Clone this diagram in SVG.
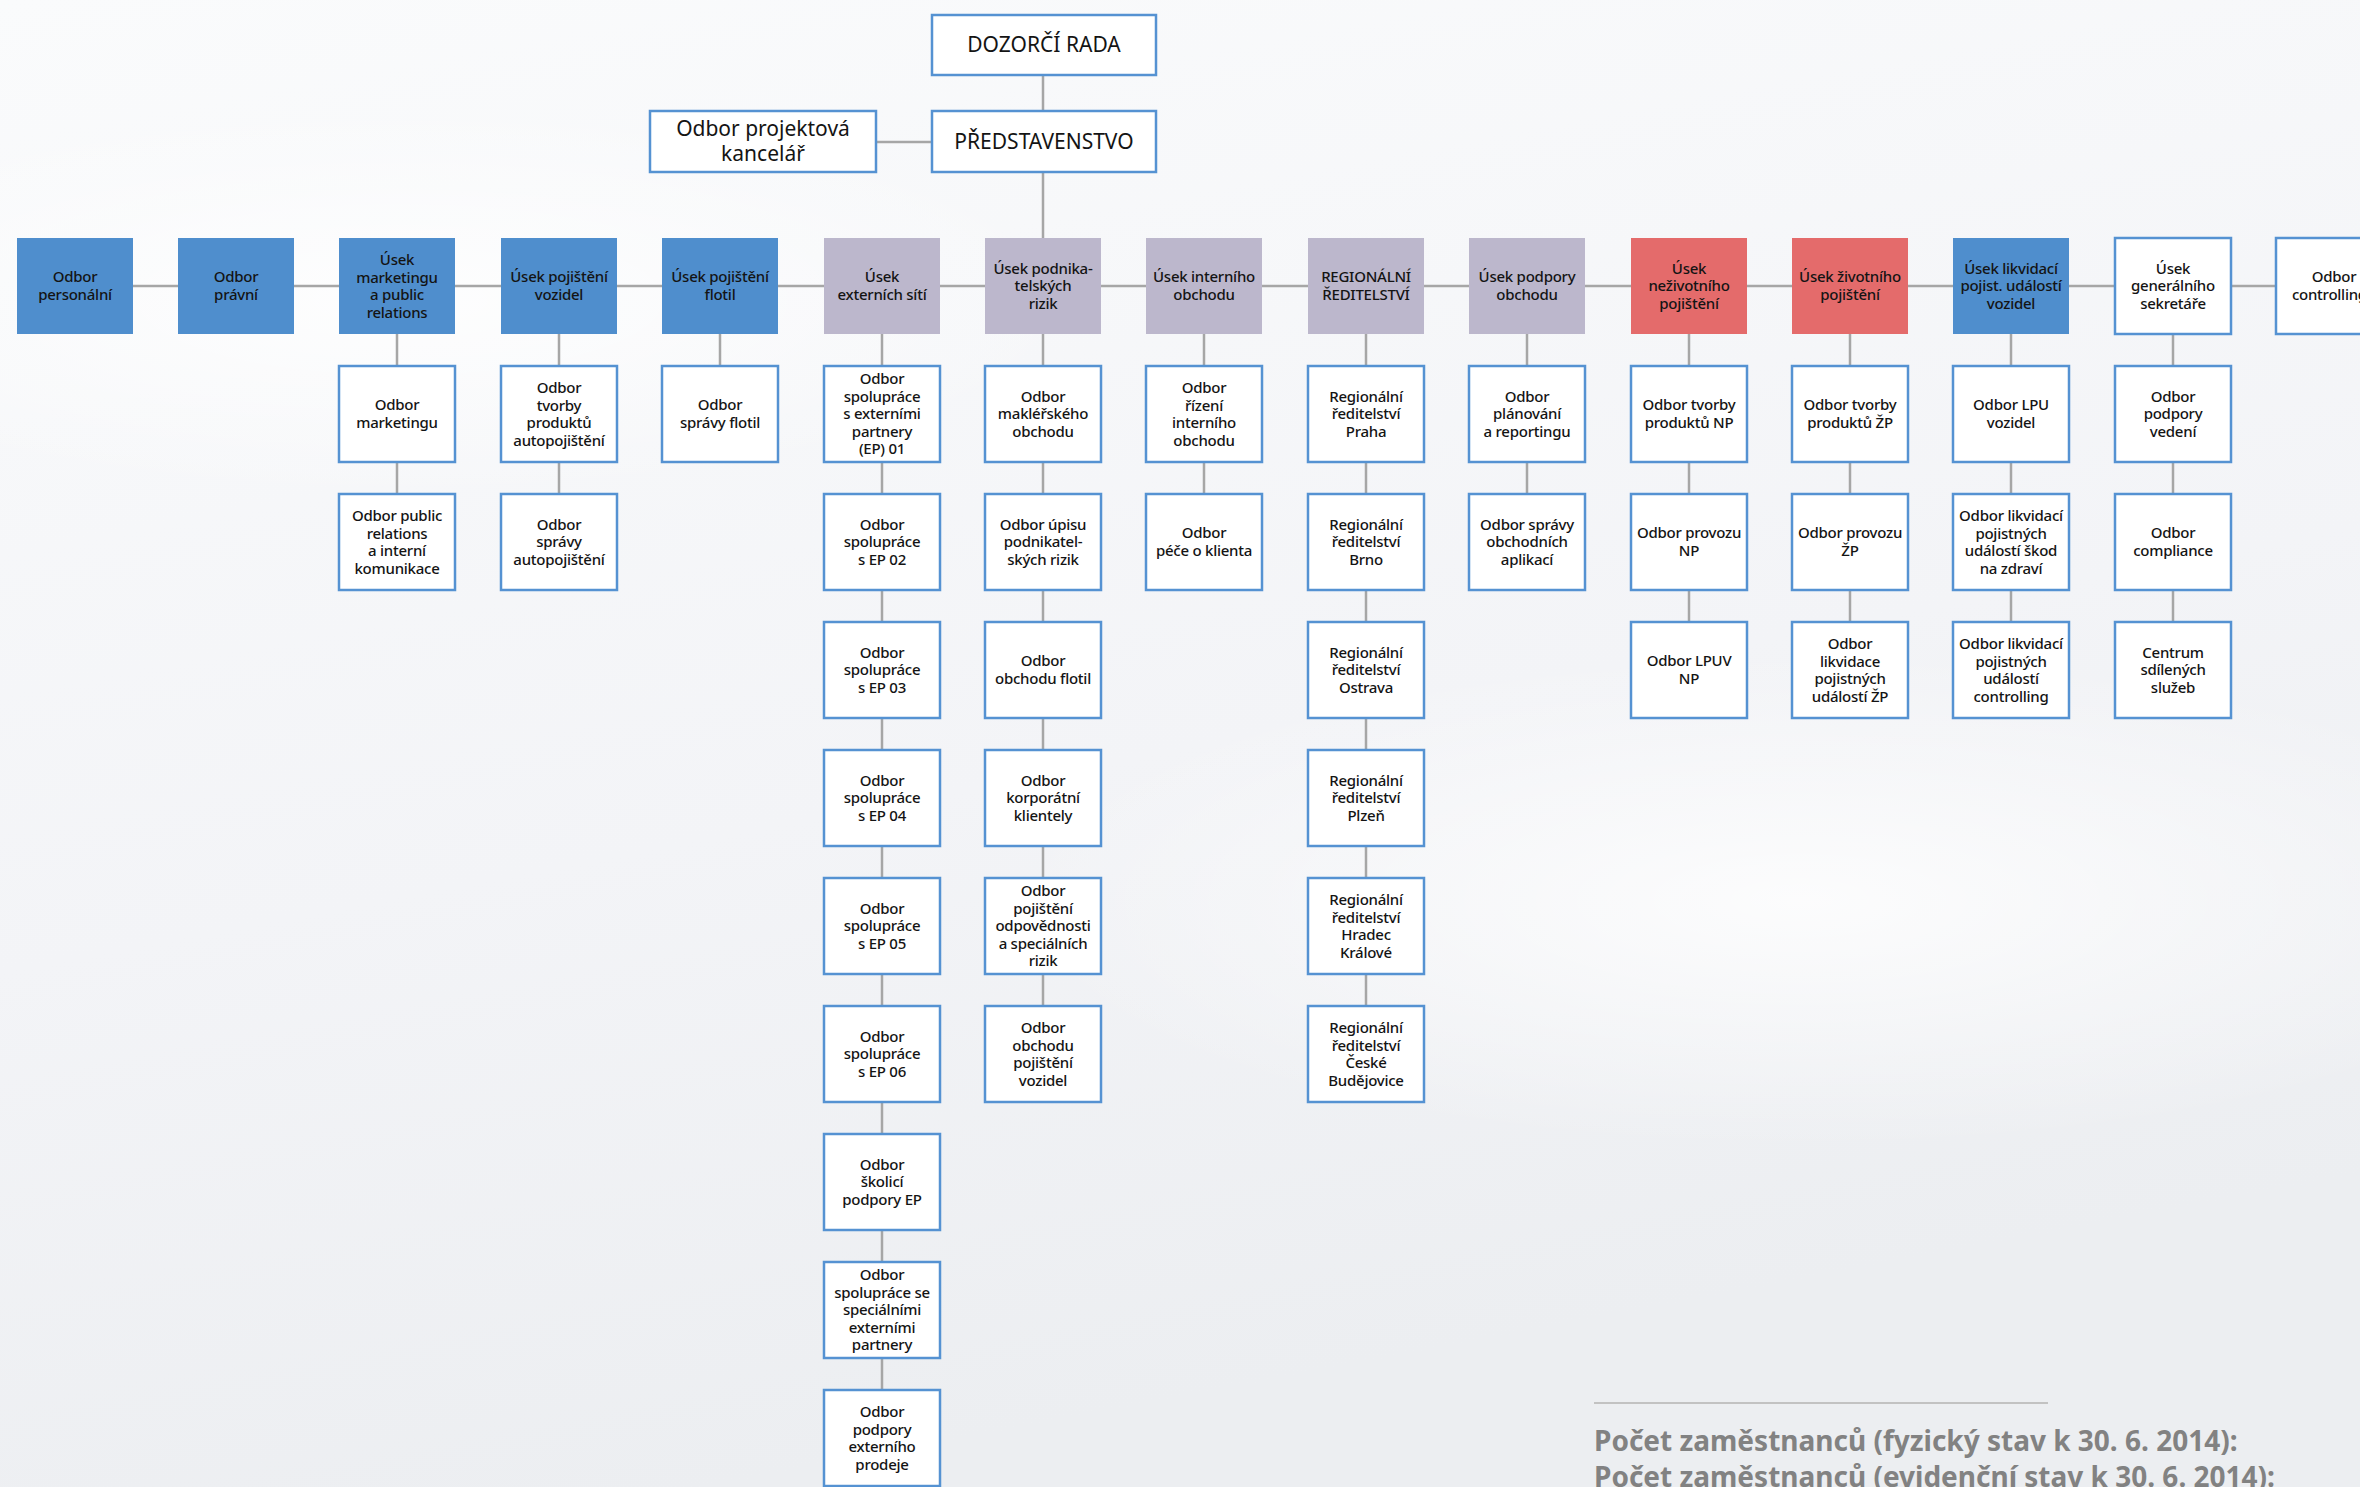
<svg xmlns="http://www.w3.org/2000/svg" width="2360" height="1487" viewBox="0 0 2360 1487">
<defs>
<linearGradient id="bg" x1="0" y1="0" x2="0.3" y2="1">
<stop offset="0" stop-color="#FAFBFC"/>
<stop offset="0.6" stop-color="#F3F4F7"/>
<stop offset="1" stop-color="#ECEEF1"/>
</linearGradient>
<radialGradient id="glow" cx="0.5" cy="0.5" r="0.5">
<stop offset="0" stop-color="#FFFFFF" stop-opacity="0.8"/>
<stop offset="1" stop-color="#FFFFFF" stop-opacity="0"/>
</radialGradient>
</defs>
<style>
.bx{stroke:none}
.blue{fill:#4F8ECD}
.gray{fill:#BCB7CC}
.red{fill:#E46B6B}
.wh{fill:#FFFFFF;stroke:#5592D2;stroke-width:2.5}
.t{font-family:"Noto Sans","Open Sans","DejaVu Sans",sans-serif;font-size:15px;font-weight:500;fill:#141414;text-anchor:middle;letter-spacing:-0.25px}
.tb{font-family:"Noto Sans","Open Sans","DejaVu Sans",sans-serif;font-size:21px;fill:#141414;text-anchor:middle}
.c{stroke:#A6A6A6;stroke-width:2.5;fill:none}
.foot{font-family:"Noto Sans","Open Sans","DejaVu Sans",sans-serif;font-size:28px;font-weight:bold;fill:#828282}
</style>
<rect x="0" y="0" width="2360" height="1487" fill="url(#bg)"/>
<ellipse cx="400" cy="300" rx="700" ry="200" fill="url(#glow)"/>
<ellipse cx="1800" cy="900" rx="800" ry="250" fill="url(#glow)"/>

<g id="connectors">
<line class="c" x1="1043" y1="75" x2="1043" y2="111"/>
<line class="c" x1="876" y1="142" x2="932" y2="142"/>
<line class="c" x1="1043" y1="172" x2="1043" y2="238"/>
<line class="c" x1="75" y1="286" x2="2360" y2="286"/>
<line class="c" x1="397" y1="334" x2="397" y2="494"/>
<line class="c" x1="559" y1="334" x2="559" y2="494"/>
<line class="c" x1="720" y1="334" x2="720" y2="366"/>
<line class="c" x1="882" y1="334" x2="882" y2="1390"/>
<line class="c" x1="1043" y1="334" x2="1043" y2="1006"/>
<line class="c" x1="1204" y1="334" x2="1204" y2="494"/>
<line class="c" x1="1366" y1="334" x2="1366" y2="1006"/>
<line class="c" x1="1527" y1="334" x2="1527" y2="494"/>
<line class="c" x1="1689" y1="334" x2="1689" y2="622"/>
<line class="c" x1="1850" y1="334" x2="1850" y2="622"/>
<line class="c" x1="2011" y1="334" x2="2011" y2="622"/>
<line class="c" x1="2173" y1="334" x2="2173" y2="622"/>
</g>

<g id="dozorci-rada"><rect class="wh" x="932" y="15" width="224" height="60"/><text class="tb" x="1044" y="52">DOZORČÍ RADA</text></g>
<g id="predstavenstvo"><rect class="wh" x="932" y="111" width="224" height="61"/><text class="tb" x="1044" y="149">PŘEDSTAVENSTVO</text></g>
<g id="projektova-kancelar"><rect class="wh" x="650" y="111" width="226" height="61"/><text class="tb" x="763" y="136"><tspan x="763">Odbor projektová</tspan><tspan x="763" dy="25">kancelář</tspan></text></g>

<!-- header row -->
<g id="h0"><rect class="bx blue" x="17" y="238" width="116" height="96"/><text class="t" x="75" y="282"><tspan x="75">Odbor</tspan><tspan x="75" dy="17.5">personální</tspan></text></g>
<g id="h1"><rect class="bx blue" x="178" y="238" width="116" height="96"/><text class="t" x="236" y="282"><tspan x="236">Odbor</tspan><tspan x="236" dy="17.5">právní</tspan></text></g>
<g id="h2"><rect class="bx blue" x="339" y="238" width="116" height="96"/><text class="t" x="397" y="265"><tspan x="397">Úsek</tspan><tspan x="397" dy="17.5">marketingu</tspan><tspan x="397" dy="17.5">a public</tspan><tspan x="397" dy="17.5">relations</tspan></text></g>
<g id="h3"><rect class="bx blue" x="501" y="238" width="116" height="96"/><text class="t" x="559" y="282"><tspan x="559">Úsek pojištění</tspan><tspan x="559" dy="17.5">vozidel</tspan></text></g>
<g id="h4"><rect class="bx blue" x="662" y="238" width="116" height="96"/><text class="t" x="720" y="282"><tspan x="720">Úsek pojištění</tspan><tspan x="720" dy="17.5">flotil</tspan></text></g>
<g id="h5"><rect class="bx gray" x="824" y="238" width="116" height="96"/><text class="t" x="882" y="282"><tspan x="882">Úsek</tspan><tspan x="882" dy="17.5">externích sítí</tspan></text></g>
<g id="h6"><rect class="bx gray" x="985" y="238" width="116" height="96"/><text class="t" x="1043" y="273.5"><tspan x="1043">Úsek podnika-</tspan><tspan x="1043" dy="17.5">telských</tspan><tspan x="1043" dy="17.5">rizik</tspan></text></g>
<g id="h7"><rect class="bx gray" x="1146" y="238" width="116" height="96"/><text class="t" x="1204" y="282"><tspan x="1204">Úsek interního</tspan><tspan x="1204" dy="17.5">obchodu</tspan></text></g>
<g id="h8"><rect class="bx gray" x="1308" y="238" width="116" height="96"/><text class="t" x="1366" y="282"><tspan x="1366">REGIONÁLNÍ</tspan><tspan x="1366" dy="17.5">ŘEDITELSTVÍ</tspan></text></g>
<g id="h9"><rect class="bx gray" x="1469" y="238" width="116" height="96"/><text class="t" x="1527" y="282"><tspan x="1527">Úsek podpory</tspan><tspan x="1527" dy="17.5">obchodu</tspan></text></g>
<g id="h10"><rect class="bx red" x="1631" y="238" width="116" height="96"/><text class="t" x="1689" y="273.5"><tspan x="1689">Úsek</tspan><tspan x="1689" dy="17.5">neživotního</tspan><tspan x="1689" dy="17.5">pojištění</tspan></text></g>
<g id="h11"><rect class="bx red" x="1792" y="238" width="116" height="96"/><text class="t" x="1850" y="282"><tspan x="1850">Úsek životního</tspan><tspan x="1850" dy="17.5">pojištění</tspan></text></g>
<g id="h12"><rect class="bx blue" x="1953" y="238" width="116" height="96"/><text class="t" x="2011" y="273.5"><tspan x="2011">Úsek likvidací</tspan><tspan x="2011" dy="17.5">pojist. událostí</tspan><tspan x="2011" dy="17.5">vozidel</tspan></text></g>
<g id="h13"><rect class="wh" x="2115" y="238" width="116" height="96"/><text class="t" x="2173" y="273.5"><tspan x="2173">Úsek</tspan><tspan x="2173" dy="17.5">generálního</tspan><tspan x="2173" dy="17.5">sekretáře</tspan></text></g>
<g id="h14"><rect class="wh" x="2276" y="238" width="116" height="96"/><text class="t" x="2334" y="282"><tspan x="2334">Odbor</tspan><tspan x="2334" dy="17.5">controllingu</tspan></text></g>

<!-- column 2 -->
<g id="c2-1"><rect class="wh" x="339" y="366" width="116" height="96"/><text class="t" x="397" y="410"><tspan x="397">Odbor</tspan><tspan x="397" dy="17.5">marketingu</tspan></text></g>
<g id="c2-2"><rect class="wh" x="339" y="494" width="116" height="96"/><text class="t" x="397" y="521"><tspan x="397">Odbor public</tspan><tspan x="397" dy="17.5">relations</tspan><tspan x="397" dy="17.5">a interní</tspan><tspan x="397" dy="17.5">komunikace</tspan></text></g>
<!-- column 3 -->
<g id="c3-1"><rect class="wh" x="501" y="366" width="116" height="96"/><text class="t" x="559" y="393"><tspan x="559">Odbor</tspan><tspan x="559" dy="17.5">tvorby</tspan><tspan x="559" dy="17.5">produktů</tspan><tspan x="559" dy="17.5">autopojištění</tspan></text></g>
<g id="c3-2"><rect class="wh" x="501" y="494" width="116" height="96"/><text class="t" x="559" y="529.5"><tspan x="559">Odbor</tspan><tspan x="559" dy="17.5">správy</tspan><tspan x="559" dy="17.5">autopojištění</tspan></text></g>
<!-- column 4 -->
<g id="c4-1"><rect class="wh" x="662" y="366" width="116" height="96"/><text class="t" x="720" y="410"><tspan x="720">Odbor</tspan><tspan x="720" dy="17.5">správy flotil</tspan></text></g>
<!-- column 5 -->
<g id="c5-1"><rect class="wh" x="824" y="366" width="116" height="96"/><text class="t" x="882" y="384"><tspan x="882">Odbor</tspan><tspan x="882" dy="17.5">spolupráce</tspan><tspan x="882" dy="17.5">s externími</tspan><tspan x="882" dy="17.5">partnery</tspan><tspan x="882" dy="17.5">(EP) 01</tspan></text></g>
<g id="c5-2"><rect class="wh" x="824" y="494" width="116" height="96"/><text class="t" x="882" y="529.5"><tspan x="882">Odbor</tspan><tspan x="882" dy="17.5">spolupráce</tspan><tspan x="882" dy="17.5">s EP 02</tspan></text></g>
<g id="c5-3"><rect class="wh" x="824" y="622" width="116" height="96"/><text class="t" x="882" y="657.5"><tspan x="882">Odbor</tspan><tspan x="882" dy="17.5">spolupráce</tspan><tspan x="882" dy="17.5">s EP 03</tspan></text></g>
<g id="c5-4"><rect class="wh" x="824" y="750" width="116" height="96"/><text class="t" x="882" y="785.5"><tspan x="882">Odbor</tspan><tspan x="882" dy="17.5">spolupráce</tspan><tspan x="882" dy="17.5">s EP 04</tspan></text></g>
<g id="c5-5"><rect class="wh" x="824" y="878" width="116" height="96"/><text class="t" x="882" y="913.5"><tspan x="882">Odbor</tspan><tspan x="882" dy="17.5">spolupráce</tspan><tspan x="882" dy="17.5">s EP 05</tspan></text></g>
<g id="c5-6"><rect class="wh" x="824" y="1006" width="116" height="96"/><text class="t" x="882" y="1041.5"><tspan x="882">Odbor</tspan><tspan x="882" dy="17.5">spolupráce</tspan><tspan x="882" dy="17.5">s EP 06</tspan></text></g>
<g id="c5-7"><rect class="wh" x="824" y="1134" width="116" height="96"/><text class="t" x="882" y="1169.5"><tspan x="882">Odbor</tspan><tspan x="882" dy="17.5">školicí</tspan><tspan x="882" dy="17.5">podpory EP</tspan></text></g>
<g id="c5-8"><rect class="wh" x="824" y="1262" width="116" height="96"/><text class="t" x="882" y="1280"><tspan x="882">Odbor</tspan><tspan x="882" dy="17.5">spolupráce se</tspan><tspan x="882" dy="17.5">speciálními</tspan><tspan x="882" dy="17.5">externími</tspan><tspan x="882" dy="17.5">partnery</tspan></text></g>
<g id="c5-9"><rect class="wh" x="824" y="1390" width="116" height="96"/><text class="t" x="882" y="1417"><tspan x="882">Odbor</tspan><tspan x="882" dy="17.5">podpory</tspan><tspan x="882" dy="17.5">externího</tspan><tspan x="882" dy="17.5">prodeje</tspan></text></g>
<!-- column 6 -->
<g id="c6-1"><rect class="wh" x="985" y="366" width="116" height="96"/><text class="t" x="1043" y="401.5"><tspan x="1043">Odbor</tspan><tspan x="1043" dy="17.5">makléřského</tspan><tspan x="1043" dy="17.5">obchodu</tspan></text></g>
<g id="c6-2"><rect class="wh" x="985" y="494" width="116" height="96"/><text class="t" x="1043" y="529.5"><tspan x="1043">Odbor úpisu</tspan><tspan x="1043" dy="17.5">podnikatel-</tspan><tspan x="1043" dy="17.5">ských rizik</tspan></text></g>
<g id="c6-3"><rect class="wh" x="985" y="622" width="116" height="96"/><text class="t" x="1043" y="666"><tspan x="1043">Odbor</tspan><tspan x="1043" dy="17.5">obchodu flotil</tspan></text></g>
<g id="c6-4"><rect class="wh" x="985" y="750" width="116" height="96"/><text class="t" x="1043" y="785.5"><tspan x="1043">Odbor</tspan><tspan x="1043" dy="17.5">korporátní</tspan><tspan x="1043" dy="17.5">klientely</tspan></text></g>
<g id="c6-5"><rect class="wh" x="985" y="878" width="116" height="96"/><text class="t" x="1043" y="896"><tspan x="1043">Odbor</tspan><tspan x="1043" dy="17.5">pojištění</tspan><tspan x="1043" dy="17.5">odpovědnosti</tspan><tspan x="1043" dy="17.5">a speciálních</tspan><tspan x="1043" dy="17.5">rizik</tspan></text></g>
<g id="c6-6"><rect class="wh" x="985" y="1006" width="116" height="96"/><text class="t" x="1043" y="1033"><tspan x="1043">Odbor</tspan><tspan x="1043" dy="17.5">obchodu</tspan><tspan x="1043" dy="17.5">pojištění</tspan><tspan x="1043" dy="17.5">vozidel</tspan></text></g>
<!-- column 7 -->
<g id="c7-1"><rect class="wh" x="1146" y="366" width="116" height="96"/><text class="t" x="1204" y="393"><tspan x="1204">Odbor</tspan><tspan x="1204" dy="17.5">řízení</tspan><tspan x="1204" dy="17.5">interního</tspan><tspan x="1204" dy="17.5">obchodu</tspan></text></g>
<g id="c7-2"><rect class="wh" x="1146" y="494" width="116" height="96"/><text class="t" x="1204" y="538"><tspan x="1204">Odbor</tspan><tspan x="1204" dy="17.5">péče o klienta</tspan></text></g>
<!-- column 8 -->
<g id="c8-1"><rect class="wh" x="1308" y="366" width="116" height="96"/><text class="t" x="1366" y="401.5"><tspan x="1366">Regionální</tspan><tspan x="1366" dy="17.5">ředitelství</tspan><tspan x="1366" dy="17.5">Praha</tspan></text></g>
<g id="c8-2"><rect class="wh" x="1308" y="494" width="116" height="96"/><text class="t" x="1366" y="529.5"><tspan x="1366">Regionální</tspan><tspan x="1366" dy="17.5">ředitelství</tspan><tspan x="1366" dy="17.5">Brno</tspan></text></g>
<g id="c8-3"><rect class="wh" x="1308" y="622" width="116" height="96"/><text class="t" x="1366" y="657.5"><tspan x="1366">Regionální</tspan><tspan x="1366" dy="17.5">ředitelství</tspan><tspan x="1366" dy="17.5">Ostrava</tspan></text></g>
<g id="c8-4"><rect class="wh" x="1308" y="750" width="116" height="96"/><text class="t" x="1366" y="785.5"><tspan x="1366">Regionální</tspan><tspan x="1366" dy="17.5">ředitelství</tspan><tspan x="1366" dy="17.5">Plzeň</tspan></text></g>
<g id="c8-5"><rect class="wh" x="1308" y="878" width="116" height="96"/><text class="t" x="1366" y="905"><tspan x="1366">Regionální</tspan><tspan x="1366" dy="17.5">ředitelství</tspan><tspan x="1366" dy="17.5">Hradec</tspan><tspan x="1366" dy="17.5">Králové</tspan></text></g>
<g id="c8-6"><rect class="wh" x="1308" y="1006" width="116" height="96"/><text class="t" x="1366" y="1033"><tspan x="1366">Regionální</tspan><tspan x="1366" dy="17.5">ředitelství</tspan><tspan x="1366" dy="17.5">České</tspan><tspan x="1366" dy="17.5">Budějovice</tspan></text></g>
<!-- column 9 -->
<g id="c9-1"><rect class="wh" x="1469" y="366" width="116" height="96"/><text class="t" x="1527" y="401.5"><tspan x="1527">Odbor</tspan><tspan x="1527" dy="17.5">plánování</tspan><tspan x="1527" dy="17.5">a reportingu</tspan></text></g>
<g id="c9-2"><rect class="wh" x="1469" y="494" width="116" height="96"/><text class="t" x="1527" y="529.5"><tspan x="1527">Odbor správy</tspan><tspan x="1527" dy="17.5">obchodních</tspan><tspan x="1527" dy="17.5">aplikací</tspan></text></g>
<!-- column 10 -->
<g id="c10-1"><rect class="wh" x="1631" y="366" width="116" height="96"/><text class="t" x="1689" y="410"><tspan x="1689">Odbor tvorby</tspan><tspan x="1689" dy="17.5">produktů NP</tspan></text></g>
<g id="c10-2"><rect class="wh" x="1631" y="494" width="116" height="96"/><text class="t" x="1689" y="538"><tspan x="1689">Odbor provozu</tspan><tspan x="1689" dy="17.5">NP</tspan></text></g>
<g id="c10-3"><rect class="wh" x="1631" y="622" width="116" height="96"/><text class="t" x="1689" y="666"><tspan x="1689">Odbor LPUV</tspan><tspan x="1689" dy="17.5">NP</tspan></text></g>
<!-- column 11 -->
<g id="c11-1"><rect class="wh" x="1792" y="366" width="116" height="96"/><text class="t" x="1850" y="410"><tspan x="1850">Odbor tvorby</tspan><tspan x="1850" dy="17.5">produktů ŽP</tspan></text></g>
<g id="c11-2"><rect class="wh" x="1792" y="494" width="116" height="96"/><text class="t" x="1850" y="538"><tspan x="1850">Odbor provozu</tspan><tspan x="1850" dy="17.5">ŽP</tspan></text></g>
<g id="c11-3"><rect class="wh" x="1792" y="622" width="116" height="96"/><text class="t" x="1850" y="649"><tspan x="1850">Odbor</tspan><tspan x="1850" dy="17.5">likvidace</tspan><tspan x="1850" dy="17.5">pojistných</tspan><tspan x="1850" dy="17.5">událostí ŽP</tspan></text></g>
<!-- column 12 -->
<g id="c12-1"><rect class="wh" x="1953" y="366" width="116" height="96"/><text class="t" x="2011" y="410"><tspan x="2011">Odbor LPU</tspan><tspan x="2011" dy="17.5">vozidel</tspan></text></g>
<g id="c12-2"><rect class="wh" x="1953" y="494" width="116" height="96"/><text class="t" x="2011" y="521"><tspan x="2011">Odbor likvidací</tspan><tspan x="2011" dy="17.5">pojistných</tspan><tspan x="2011" dy="17.5">událostí škod</tspan><tspan x="2011" dy="17.5">na zdraví</tspan></text></g>
<g id="c12-3"><rect class="wh" x="1953" y="622" width="116" height="96"/><text class="t" x="2011" y="649"><tspan x="2011">Odbor likvidací</tspan><tspan x="2011" dy="17.5">pojistných</tspan><tspan x="2011" dy="17.5">událostí</tspan><tspan x="2011" dy="17.5">controlling</tspan></text></g>
<!-- column 13 -->
<g id="c13-1"><rect class="wh" x="2115" y="366" width="116" height="96"/><text class="t" x="2173" y="401.5"><tspan x="2173">Odbor</tspan><tspan x="2173" dy="17.5">podpory</tspan><tspan x="2173" dy="17.5">vedení</tspan></text></g>
<g id="c13-2"><rect class="wh" x="2115" y="494" width="116" height="96"/><text class="t" x="2173" y="538"><tspan x="2173">Odbor</tspan><tspan x="2173" dy="17.5">compliance</tspan></text></g>
<g id="c13-3"><rect class="wh" x="2115" y="622" width="116" height="96"/><text class="t" x="2173" y="657.5"><tspan x="2173">Centrum</tspan><tspan x="2173" dy="17.5">sdílených</tspan><tspan x="2173" dy="17.5">služeb</tspan></text></g>

<g id="footer">
<line x1="1594" y1="1403" x2="2048" y2="1403" stroke="#C2C2C2" stroke-width="2"/>
<text class="foot" x="1594" y="1451">Počet zaměstnanců (fyzický stav k 30. 6. 2014):</text>
<text class="foot" x="1594" y="1487">Počet zaměstnanců (evidenční stav k 30. 6. 2014):</text>
</g>
</svg>
